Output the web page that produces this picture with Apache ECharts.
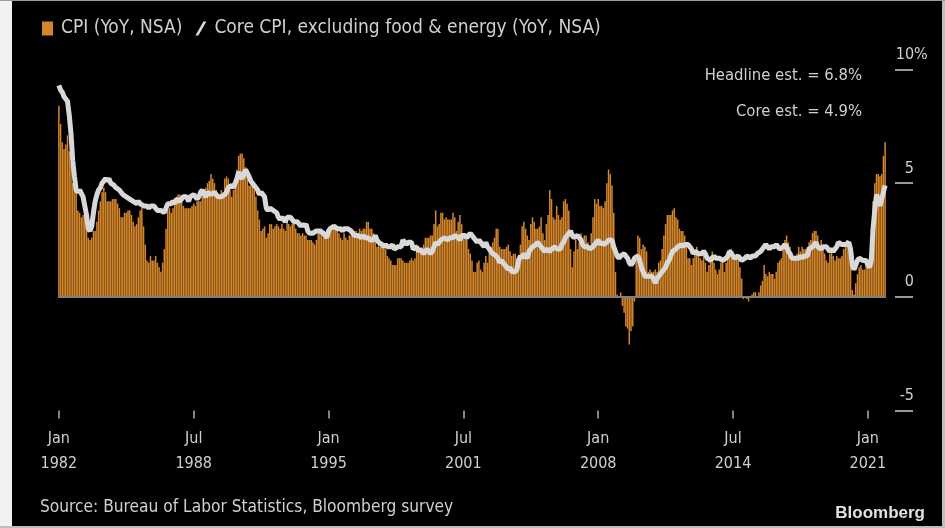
<!DOCTYPE html>
<html>
<head>
<meta charset="utf-8">
<script src="https://cdn.jsdelivr.net/npm/echarts@6/dist/echarts.min.js"></script>
<style>
  html, body { margin: 0; padding: 0; background: #000; }
  #chart { width: 945px; height: 528px; }
</style>
</head>
<body>
<div id="chart"></div>
<script>
  // monthly, Jan 1982 .. Nov 2021 (Nov 2021 = survey estimate)
  const startYear = 1982
  const cpi = [
    8.4, 7.6, 6.8, 6.5, 6.7, 7.1, 6.4, 5.9, 5.0, 5.1, 4.6, 3.8,
    3.7, 3.5, 3.6, 3.9, 3.5, 2.6, 2.5, 2.6, 2.9, 2.9, 3.3, 3.8,
    4.2, 4.6, 4.8, 4.6, 4.2, 4.2, 4.2, 4.3, 4.3, 4.3, 4.1, 3.9,
    3.5, 3.5, 3.7, 3.7, 3.8, 3.8, 3.6, 3.3, 3.1, 3.2, 3.5, 3.8,
    3.9, 3.1, 2.3, 1.6, 1.5, 1.8, 1.6, 1.6, 1.8, 1.5, 1.3, 1.1,
    1.5, 2.1, 3.0, 3.8, 3.9, 3.7, 3.9, 4.3, 4.4, 4.5, 4.5, 4.4,
    4.0, 3.9, 3.9, 3.9, 3.9, 4.0, 4.1, 4.0, 4.2, 4.2, 4.2, 4.4,
    4.7, 4.8, 5.0, 5.1, 5.4, 5.2, 5.0, 4.7, 4.3, 4.5, 4.7, 4.6,
    5.2, 5.3, 5.2, 4.7, 4.4, 4.7, 4.8, 5.6, 6.2, 6.3, 6.3, 6.1,
    5.7, 5.3, 4.9, 4.9, 5.0, 4.7, 4.4, 3.8, 3.4, 2.9, 3.0, 3.1,
    2.6, 2.8, 3.2, 3.2, 3.0, 3.1, 3.2, 3.1, 3.0, 3.2, 3.0, 2.9,
    3.3, 3.2, 3.1, 3.2, 3.2, 3.0, 2.8, 2.8, 2.7, 2.8, 2.7, 2.7,
    2.5, 2.5, 2.5, 2.4, 2.3, 2.5, 2.8, 2.9, 3.0, 2.6, 2.7, 2.7,
    2.8, 2.9, 2.9, 3.1, 3.2, 3.0, 2.8, 2.6, 2.5, 2.8, 2.6, 2.5,
    2.7, 2.7, 2.8, 2.9, 2.9, 2.8, 3.0, 2.9, 3.0, 3.0, 3.3, 3.3,
    3.0, 3.0, 2.8, 2.5, 2.2, 2.3, 2.2, 2.2, 2.2, 2.1, 1.8, 1.7,
    1.6, 1.4, 1.4, 1.4, 1.7, 1.7, 1.7, 1.6, 1.5, 1.5, 1.5, 1.6,
    1.7, 1.6, 1.7, 2.3, 2.1, 2.0, 2.1, 2.3, 2.6, 2.6, 2.6, 2.7,
    2.7, 3.2, 3.8, 3.1, 3.2, 3.7, 3.7, 3.4, 3.5, 3.4, 3.4, 3.4,
    3.7, 3.5, 2.9, 3.3, 3.6, 3.2, 2.7, 2.7, 2.6, 2.1, 1.9, 1.6,
    1.1, 1.1, 1.5, 1.6, 1.2, 1.1, 1.5, 1.8, 1.5, 2.0, 2.2, 2.4,
    2.6, 3.0, 3.0, 2.2, 2.1, 2.1, 2.1, 2.2, 2.3, 2.0, 1.8, 1.9,
    1.9, 1.7, 1.7, 2.3, 3.1, 3.3, 3.0, 2.7, 2.5, 3.2, 3.5, 3.3,
    3.0, 3.0, 3.1, 3.5, 2.8, 2.5, 3.2, 3.6, 4.7, 4.3, 3.5, 3.4,
    4.0, 3.6, 3.4, 3.5, 4.2, 4.3, 4.1, 3.8, 2.1, 1.3, 2.0, 2.5,
    2.1, 2.4, 2.8, 2.6, 2.7, 2.7, 2.4, 2.0, 2.8, 3.5, 4.3, 4.1,
    4.3, 4.0, 4.0, 3.9, 4.2, 5.0, 5.6, 5.4, 4.9, 3.7, 1.1, 0.1,
    0.0, 0.2, -0.4, -0.7, -1.3, -1.4, -2.1, -1.5, -1.3, -0.2, 1.8, 2.7,
    2.6, 2.1, 2.3, 2.2, 2.0, 1.1, 1.2, 1.1, 1.1, 1.2, 1.1, 1.5,
    1.6, 2.1, 2.7, 3.2, 3.6, 3.6, 3.6, 3.8, 3.9, 3.5, 3.4, 3.0,
    2.9, 2.9, 2.7, 2.3, 1.7, 1.7, 1.4, 1.7, 2.0, 2.2, 1.8, 1.7,
    1.6, 2.0, 1.5, 1.1, 1.4, 1.8, 2.0, 1.5, 1.2, 1.0, 1.2, 1.5,
    1.6, 1.1, 1.5, 2.0, 2.1, 2.1, 2.0, 1.7, 1.7, 1.7, 1.3, 0.8,
    -0.1, 0.0, -0.1, -0.2, 0.0, 0.1, 0.2, 0.2, 0.0, 0.2, 0.5, 0.7,
    1.4, 1.0, 0.9, 1.1, 1.0, 1.0, 0.8, 1.1, 1.5, 1.6, 1.7, 2.1,
    2.5, 2.7, 2.4, 2.2, 1.9, 1.6, 1.7, 1.9, 2.2, 2.0, 2.2, 2.1,
    2.1, 2.2, 2.4, 2.5, 2.8, 2.9, 2.9, 2.7, 2.3, 2.5, 2.2, 1.9,
    1.6, 1.5, 1.9, 2.0, 1.8, 1.6, 1.8, 1.7, 1.7, 1.8, 2.1, 2.3,
    2.5, 2.3, 1.5, 0.3, 0.1, 0.6, 1.0, 1.3, 1.4, 1.2, 1.2, 1.4,
    1.4, 1.7, 2.6, 4.2, 5.0, 5.4, 5.4, 5.3, 5.4, 6.2, 6.8
  ]
  const core = [
    9.3, 9.1, 9.0, 8.8, 8.7, 8.6, 8.0, 7.2, 6.0, 5.3, 4.7, 4.6,
    4.7, 4.7, 4.4, 4.0, 3.6, 3.0, 2.9, 3.1, 3.7, 4.2, 4.5, 4.7,
    4.8, 5.0, 5.1, 5.2, 5.1, 5.2, 5.0, 5.0, 4.9, 4.8, 4.8, 4.7,
    4.6, 4.5, 4.5, 4.4, 4.4, 4.3, 4.3, 4.2, 4.2, 4.1, 4.2, 4.1,
    4.1, 4.0, 4.0, 4.0, 3.9, 4.0, 4.0, 4.0, 3.9, 3.8, 3.8, 3.8,
    3.8, 3.7, 3.9, 4.1, 4.1, 4.1, 4.2, 4.1, 4.3, 4.3, 4.2, 4.2,
    4.4, 4.4, 4.4, 4.2, 4.4, 4.4, 4.5, 4.4, 4.3, 4.4, 4.6, 4.7,
    4.5, 4.4, 4.6, 4.6, 4.5, 4.5, 4.6, 4.5, 4.4, 4.4, 4.4, 4.4,
    4.5, 4.6, 4.8, 4.8, 4.9, 4.8, 5.0, 5.2, 5.5, 5.3, 5.2, 5.2,
    5.6, 5.6, 5.3, 5.1, 5.0, 4.9, 4.8, 4.7, 4.5, 4.6, 4.5, 4.4,
    3.9, 3.8, 3.9, 3.9, 3.8, 3.8, 3.7, 3.5, 3.4, 3.5, 3.4, 3.3,
    3.5, 3.5, 3.5, 3.4, 3.3, 3.3, 3.3, 3.2, 3.1, 3.2, 3.1, 3.2,
    2.9, 2.8, 2.8, 2.8, 2.8, 2.9, 2.9, 2.9, 2.9, 2.8, 2.8, 2.6,
    2.9, 3.0, 3.0, 3.1, 3.1, 3.0, 3.0, 3.0, 2.9, 3.0, 3.0, 3.0,
    3.0, 2.9, 2.8, 2.7, 2.7, 2.7, 2.7, 2.6, 2.7, 2.6, 2.6, 2.6,
    2.5, 2.5, 2.5, 2.7, 2.5, 2.4, 2.4, 2.3, 2.2, 2.3, 2.2, 2.2,
    2.2, 2.3, 2.1, 2.1, 2.2, 2.2, 2.2, 2.5, 2.5, 2.3, 2.4, 2.4,
    2.4, 2.1, 2.1, 2.2, 2.0, 2.1, 2.1, 1.9, 2.0, 2.1, 2.1, 1.9,
    2.0, 2.2, 2.4, 2.3, 2.4, 2.5, 2.5, 2.6, 2.6, 2.5, 2.6, 2.6,
    2.6, 2.7, 2.7, 2.6, 2.5, 2.7, 2.7, 2.7, 2.6, 2.6, 2.8, 2.7,
    2.6, 2.6, 2.4, 2.5, 2.5, 2.3, 2.2, 2.4, 2.2, 2.2, 2.0, 1.9,
    1.9, 1.8, 1.7, 1.5, 1.6, 1.5, 1.5, 1.3, 1.2, 1.3, 1.1, 1.1,
    1.1, 1.2, 1.6, 1.8, 1.7, 1.9, 1.8, 1.7, 2.0, 2.0, 2.2, 2.2,
    2.3, 2.4, 2.3, 2.2, 2.2, 2.0, 2.1, 2.1, 2.0, 2.1, 2.1, 2.2,
    2.1, 2.1, 2.1, 2.3, 2.4, 2.6, 2.7, 2.8, 2.9, 2.7, 2.6, 2.6,
    2.7, 2.7, 2.5, 2.3, 2.2, 2.2, 2.2, 2.1, 2.1, 2.2, 2.3, 2.4,
    2.5, 2.3, 2.4, 2.3, 2.3, 2.4, 2.5, 2.5, 2.5, 2.2, 2.0, 1.8,
    1.7, 1.8, 1.8, 1.9, 1.8, 1.7, 1.5, 1.4, 1.5, 1.7, 1.7, 1.8,
    1.6, 1.3, 1.1, 0.9, 0.9, 0.9, 0.9, 0.9, 0.8, 0.6, 0.8, 0.8,
    1.0, 1.1, 1.2, 1.3, 1.5, 1.6, 1.8, 2.0, 2.0, 2.1, 2.2, 2.2,
    2.3, 2.2, 2.3, 2.3, 2.3, 2.2, 2.1, 1.9, 2.0, 2.0, 1.9, 1.9,
    1.9, 2.0, 1.9, 1.7, 1.7, 1.6, 1.7, 1.8, 1.7, 1.7, 1.7, 1.7,
    1.6, 1.6, 1.7, 1.8, 2.0, 1.9, 1.9, 1.7, 1.7, 1.8, 1.7, 1.6,
    1.6, 1.7, 1.8, 1.8, 1.7, 1.8, 1.8, 1.8, 1.9, 1.9, 2.0, 2.1,
    2.2, 2.3, 2.2, 2.1, 2.2, 2.2, 2.2, 2.3, 2.2, 2.1, 2.1, 2.2,
    2.3, 2.2, 2.0, 1.9, 1.7, 1.7, 1.7, 1.7, 1.7, 1.8, 1.7, 1.8,
    1.8, 1.8, 2.1, 2.1, 2.2, 2.3, 2.4, 2.2, 2.2, 2.1, 2.2, 2.2,
    2.2, 2.1, 2.0, 2.1, 2.0, 2.1, 2.2, 2.4, 2.4, 2.3, 2.3, 2.3,
    2.3, 2.4, 2.1, 1.4, 1.2, 1.2, 1.6, 1.7, 1.7, 1.6, 1.6, 1.6,
    1.4, 1.3, 1.6, 3.0, 3.8, 4.5, 4.3, 4.0, 4.0, 4.6, 4.9
  ]
  const tickLabels = ['Jan 1982', 'Jul 1988', 'Jan 1995', 'Jul 2001', 'Jan 2008', 'Jul 2014', 'Jan 2021']
  const yTicks = [-5, 0, 5, 10]

  const monthNames = ['Jan', 'Feb', 'Mar', 'Apr', 'May', 'Jun', 'Jul', 'Aug', 'Sep', 'Oct', 'Nov', 'Dec']
  const months = cpi.map((v, i) => monthNames[i % 12] + ' ' + (startYear + Math.floor(i / 12)))

  const font = 'DejaVu Sans Condensed, DejaVu Sans, sans-serif'
  const txt = '#d0d0d0'
  const nameCpi = 'CPI (YoY, NSA)'
  const nameCore = 'Core CPI, excluding food & energy (YoY, NSA)'
  const showTick = (idx, val) => tickLabels.indexOf(val) >= 0

  const chart = echarts.init(document.getElementById('chart'))
  chart.setOption({
    backgroundColor: '#000',
    animation: false,
    legend: {
      left: 37,
      top: 14,
      itemWidth: 11,
      itemHeight: 14,
      itemGap: 13,
      textStyle: { color: txt, fontSize: 19, fontFamily: font, padding: [0, 0, 0, 3] },
      data: [
        { name: nameCpi, icon: 'rect' },
        { name: nameCore, icon: 'path://M0,14 L3,14 L11,0 L8,0 Z' }
      ]
    },
    grid: { left: 58, right: 59, top: 69.5, bottom: 117.5 },
    xAxis: {
      type: 'category',
      data: months,
      axisLine: { show: false, onZero: false },
      axisTick: {
        show: true, alignWithLabel: true, interval: showTick, length: 8,
        lineStyle: { color: '#b0b0b0', width: 1.5 }
      },
      axisLabel: {
        interval: showTick,
        formatter: v => v.replace(' ', '\n'),
        color: txt, fontSize: 16, fontFamily: font, lineHeight: 25, margin: 16
      },
      splitLine: { show: false }
    },
    yAxis: {
      type: 'value',
      position: 'right',
      min: yTicks[0],
      max: yTicks[yTicks.length - 1],
      interval: 5,
      offset: 9,
      axisLine: { show: false },
      axisTick: { show: true, length: 18, lineStyle: { color: '#9a9a9a', width: 2 } },
      splitLine: { show: false },
      axisLabel: {
        margin: 1,
        verticalAlign: 'bottom',
        formatter: v => v === 10 ? '{n|10}{p|%}' : '{n|' + v + '}',
        rich: {
          n: { width: 18, align: 'right', color: txt, fontSize: 16, fontFamily: font, lineHeight: 16, padding: [0, 0, 13, 0] },
          p: { color: txt, fontSize: 16, fontFamily: font, lineHeight: 16, padding: [0, 0, 13, 0] }
        }
      }
    },
    series: [
      {
        name: nameCpi,
        type: 'bar',
        data: cpi,
        barCategoryGap: '12%',
        itemStyle: { color: '#D3852A' },
        markLine: {
          silent: true,
          symbol: ['none', 'none'],
          label: { show: false },
          lineStyle: { color: '#808080', width: 2, type: 'solid' },
          data: [{ yAxis: 0 }]
        }
      },
      {
        name: nameCore,
        type: 'line',
        data: core,
        symbol: 'none',
        itemStyle: { color: '#d8d8d8' },
        lineStyle: { color: '#d8d8d8', width: 5 }
      }
    ],
    graphic: [
      // screenshot frame around the black panel
      { type: 'rect', left: 0, top: 0, shape: { width: 12, height: 528 }, style: { fill: '#f2f2f2' } },
      { type: 'rect', left: 942, top: 0, shape: { width: 3, height: 528 }, style: { fill: '#bdbdbd' } },
      { type: 'rect', left: 0, top: 0, shape: { width: 945, height: 1 }, style: { fill: '#9a9a9a' } },
      { type: 'rect', left: 0, top: 526, shape: { width: 945, height: 2 }, style: { fill: '#bdbdbd' } },
      {
        type: 'text', right: 83, top: 67,
        style: { text: 'Headline est. = 6.8%', fill: txt, fontSize: 16.5, fontFamily: font }
      },
      {
        type: 'text', right: 83, top: 103,
        style: { text: 'Core est. = 4.9%', fill: txt, fontSize: 16.5, fontFamily: font }
      },
      {
        type: 'text', left: 40, top: 499,
        style: { text: 'Source: Bureau of Labor Statistics, Bloomberg survey', fill: txt, fontSize: 17.2, fontFamily: font }
      },
      {
        type: 'text', right: 20, top: 505,
        style: { text: 'Bloomberg', fill: '#e2e2e2', fontSize: 17, fontWeight: 'bold', fontFamily: 'Liberation Sans, Arial, sans-serif' }
      }
    ]
  })
</script>
</body>
</html>
